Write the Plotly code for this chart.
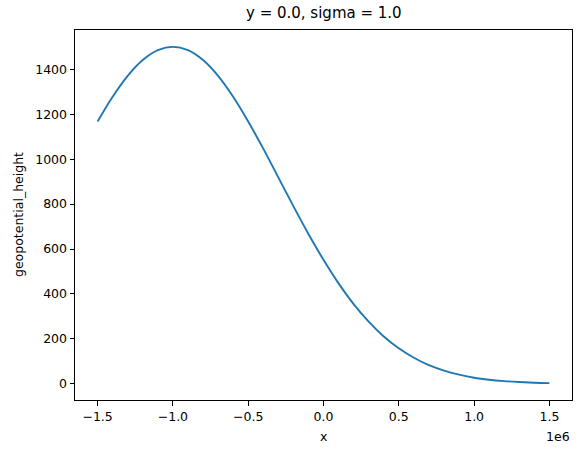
import plotly.graph_objects as go

# x positions (metres) and geopotential height
x_vals = [-1.5e6, -1.4e6, -1.3e6, -1.2e6, -1.1e6, -1.0e6, -0.9e6, -0.8e6, -0.7e6, -0.6e6,
          -0.5e6, -0.4e6, -0.3e6, -0.2e6, -0.1e6, 0.0, 0.1e6, 0.2e6, 0.3e6, 0.4e6,
          0.5e6, 0.6e6, 0.7e6, 0.8e6, 0.9e6, 1.0e6, 1.1e6, 1.2e6, 1.3e6, 1.4e6, 1.5e6]
height = [1168, 1278, 1371, 1441, 1485, 1500, 1485, 1441, 1371, 1278,
          1168, 1047, 919, 791, 667, 552, 447, 355, 277, 211,
          158, 116, 83, 59, 41, 27, 18, 12, 8, 5, 3]

x_tickvals = [-1.5e6, -1.0e6, -0.5e6, 0.0, 0.5e6, 1.0e6, 1.5e6]
x_ticktext = ["\u22121.5", "\u22121.0", "\u22120.5", "0.0", "0.5", "1.0", "1.5"]
y_tickvals = [0, 200, 400, 600, 800, 1000, 1200, 1400]
y_ticktext = ["0", "200", "400", "600", "800", "1000", "1200", "1400"]

font = "DejaVu Sans"

fig = go.Figure()
fig.add_trace(go.Scatter(x=x_vals, y=height, mode="lines",
                         line=dict(color="#1f77b4", width=1.9, shape="spline")))

axis_common = dict(showline=True, linecolor="black", linewidth=1, mirror=True,
                   ticks="outside", ticklen=4.5, tickwidth=1, tickcolor="black",
                   showgrid=False, zeroline=False,
                   tickfont=dict(family=font, size=12.5, color="black"))

fig.update_layout(
    width=580, height=453,
    margin=dict(l=75, r=8, t=30, b=53),
    paper_bgcolor="white", plot_bgcolor="white",
    showlegend=False,
    xaxis=dict(range=[-1.65e6, 1.65e6], tickvals=x_tickvals, ticktext=x_ticktext, **axis_common),
    yaxis=dict(range=[-72, 1575], tickvals=y_tickvals, ticktext=y_ticktext, **axis_common),
    annotations=[
        dict(text="y = 0.0, sigma = 1.0", xref="paper", yref="paper", x=0.5, y=1,
             yshift=6, xanchor="center", yanchor="bottom", showarrow=False,
             font=dict(family=font, size=15, color="black")),
        dict(text="x", xref="paper", yref="paper", x=0.5, y=0, yshift=-36,
             xanchor="center", yanchor="middle", showarrow=False,
             font=dict(family=font, size=12.5, color="black")),
        dict(text="1e6", xref="paper", yref="paper", x=1, y=0, yshift=-36,
             xanchor="right", yanchor="middle", showarrow=False,
             font=dict(family=font, size=12.5, color="black")),
        dict(text="geopotential_height", xref="paper", yref="paper", x=0, y=0.5,
             xshift=-57, xanchor="center", yanchor="middle", textangle=-90,
             showarrow=False, font=dict(family=font, size=12.5, color="black")),
    ],
)

fig.write_html("out.html")
